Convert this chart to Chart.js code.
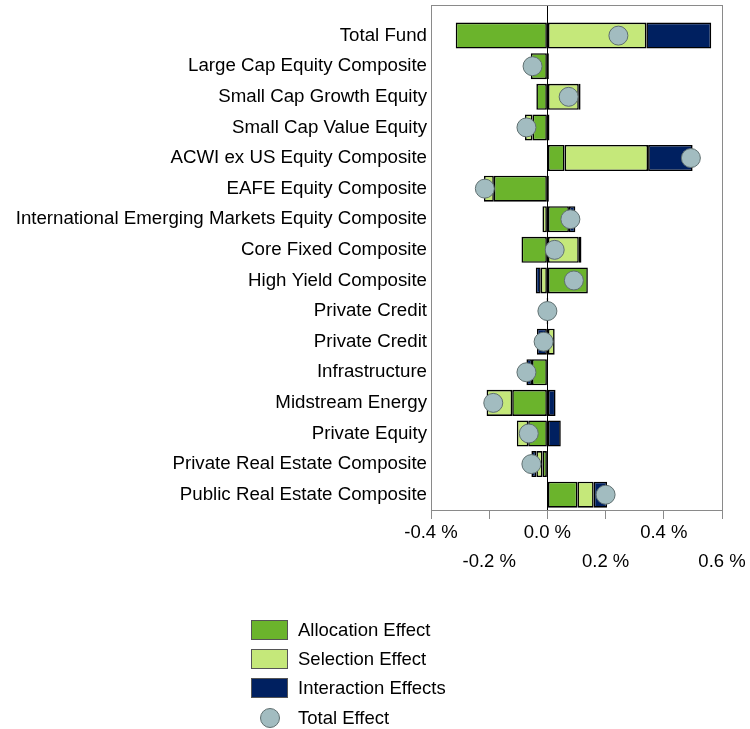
<!DOCTYPE html>
<html>
<head>
<meta charset="utf-8">
<script src="https://cdn.jsdelivr.net/npm/chart.js@4/dist/chart.umd.min.js"></script>
<style>
  html, body { margin: 0; padding: 0; background: #fff; }
  #wrap { position: relative; width: 750px; height: 729px; }
  #legend { position: absolute; left: 251px; top: 615px; font-family: "Liberation Sans", Arial, sans-serif; font-size: 18.5px; color: #000; }
  .item { height: 29.3px; display: flex; align-items: center; }
  .box { width: 37px; height: 20px; box-sizing: border-box; border: 1px solid #555; margin-right: 10px; }
  .dot { width: 20px; height: 20px; box-sizing: border-box; border-radius: 50%; border: 1px solid #5f6f70; margin: 0 18px 0 9px; }
</style>
</head>
<body>
<div id="wrap">
  <canvas id="myChart" width="750" height="729"></canvas>
  <div id="legend"></div>
</div>
<script>
// 카테고리 (위에서 아래로)
const categories = ['Total Fund', 'Large Cap Equity Composite', 'Small Cap Growth Equity', 'Small Cap Value Equity',
  'ACWI ex US Equity Composite', 'EAFE Equity Composite', 'International Emerging Markets Equity Composite',
  'Core Fixed Composite', 'High Yield Composite', 'Private Credit', 'Private Credit', 'Infrastructure',
  'Midstream Energy', 'Private Equity', 'Private Real Estate Composite', 'Public Real Estate Composite'];

// 값은 % 단위
const allocation  = [-0.315, -0.057, -0.038, -0.051, 0.059, -0.184, 0.074, -0.089, 0.139, 0.003, 0.000, -0.053, -0.121, -0.066, -0.017, 0.103];
const selection   = [0.340, 0.000, 0.108, -0.026, 0.287, -0.034, -0.017, 0.108, -0.023, 0.000, 0.025, 0.000, -0.088, -0.039, -0.021, 0.056];
const interaction = [0.223, 0.005, 0.006, 0.007, 0.153, 0.005, 0.022, 0.009, -0.017, -0.003, -0.036, -0.019, 0.028, 0.046, -0.017, 0.046];
const totalEffect = [0.244, -0.051, 0.073, -0.072, 0.493, -0.215, 0.079, 0.025, 0.091, 0.000, -0.013, -0.072, -0.186, -0.064, -0.055, 0.200];

const xTicks = [-0.4, -0.2, 0.0, 0.2, 0.4, 0.6];

const FONT = '"Liberation Sans", Arial, sans-serif';

// {x, y} 형태로 변환 (y는 행 번호)
function rows(values) {
	return values.map((v, i) => ({ x: v, y: i }));
}

function barSet(label, values, color) {
	return {
		type: 'bar',
		label: label,
		data: rows(values),
		backgroundColor: color,
		borderColor: '#000',
		borderWidth: 1.6,
		borderSkipped: false,
		stack: 'eff',
		order: 1,
		categoryPercentage: 1,
		barPercentage: 0.85
	};
}

// 플롯 테두리
const boxPlugin = {
	id: 'box',
	afterDraw(chart) {
		const a = chart.chartArea;
		const c = chart.ctx;
		c.save();
		c.strokeStyle = '#8a8a8a';
		c.lineWidth = 1;
		c.strokeRect(Math.round(a.left) + 0.5, Math.round(a.top) + 0.5, Math.round(a.right - a.left), Math.round(a.bottom - a.top));
		c.restore();
	}
};

const ctx = document.getElementById('myChart').getContext('2d');
const myChart = new Chart(ctx, {
	data: {
		datasets: [
			barSet('Allocation Effect', allocation, '#6bb42c'),
			barSet('Selection Effect', selection, '#c5e87a'),
			barSet('Interaction Effects', interaction, '#002060'),
			{
				type: 'line',
				label: 'Total Effect',
				data: rows(totalEffect),
				showLine: false,
				stack: 'pts',
				order: 0,
				pointRadius: 9.5,
				pointBackgroundColor: '#a2bcc0',
				pointBorderColor: '#5f6f70',
				pointBorderWidth: 1
			}
		]
	},
	options: {
		indexAxis: 'y',
		responsive: false,
		animation: false,
		layout: { autoPadding: false, padding: { top: 5, right: 28, left: 0, bottom: 0 } },
		plugins: { legend: { display: false }, tooltip: { enabled: false } },
		scales: {
			x: {
				type: 'linear',
				stacked: true,
				min: -0.4,
				max: 0.6,
				afterBuildTicks: s => { s.ticks = xTicks.map(v => ({ value: v })); },
				afterFit: s => { s.height = 219; s.paddingLeft = 0; s.paddingRight = 0; },
				grid: {
					color: c => (Math.abs(c.tick.value) < 1e-9 ? '#000' : 'rgba(0,0,0,0)'),
					tickColor: '#8a8a8a',
					tickLength: 9,
					lineWidth: 1
				},
				border: { color: '#8a8a8a' },
				ticks: {
					color: '#000',
					maxRotation: 0,
					autoSkip: false,
					padding: -1,
					font: { family: FONT, size: 18.5, lineHeight: '29px' },
					callback: (v, i) => {
						const t = v.toFixed(1) + ' %';
						return i % 2 === 0 ? [t] : ['', t];
					}
				}
			},
			y: {
				type: 'linear',
				reverse: true,
				offset: false,
				min: -1.0,
				max: 15.5,
				afterBuildTicks: s => { s.ticks = categories.map((c, i) => ({ value: i })); },
				afterFit: s => { s.width = 431; s.paddingTop = 0; s.paddingBottom = 0; },
				grid: { display: false, drawTicks: false, offset: false },
				border: { color: '#8a8a8a' },
				ticks: {
					color: '#000',
					autoSkip: false,
					padding: 4,
					font: { family: FONT, size: 18.7 },
					callback: v => categories[v] || ''
				}
			}
		}
	},
	plugins: [boxPlugin]
}); // new Chart

// 범례 (세로)
const legendEl = document.getElementById('legend');
myChart.data.datasets.forEach(ds => {
	const item = document.createElement('div');
	item.className = 'item';
	const mark = document.createElement('span');
	if (ds.type === 'bar') {
		mark.className = 'box';
		mark.style.background = ds.backgroundColor;
	} else {
		mark.className = 'dot';
		mark.style.background = ds.pointBackgroundColor;
	}
	item.appendChild(mark);
	item.appendChild(document.createTextNode(ds.label));
	legendEl.appendChild(item);
});
</script>
</body>
</html>
